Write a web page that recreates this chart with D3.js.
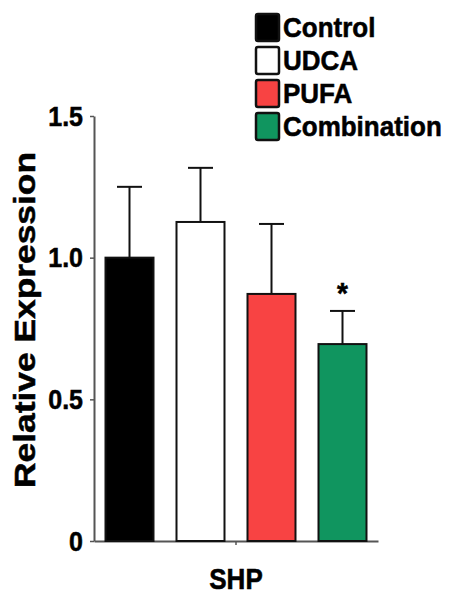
<!DOCTYPE html>
<html>
<head>
<meta charset="utf-8">
<script src="https://cdn.jsdelivr.net/npm/d3@7"></script>
<style>
  html, body { margin: 0; padding: 0; background: #fff; }
  svg { display: block; }
  text { font-family: "Liberation Sans", Arial, Helvetica, sans-serif; font-weight: bold; fill: #000; stroke: #000; stroke-width: 0.5px; }
</style>
</head>
<body>
<svg id="chart" width="450" height="596"></svg>
<script>
// ---- data ----
const categories = ["Control", "UDCA", "PUFA", "Combination"];
const values = [1.0, 1.126, 0.872, 0.695];
const errors = [0.25, 0.191, 0.247, 0.117];
const significant = [false, false, false, true];
const colors = ["#000000", "#ffffff", "#f84343", "#10955f"];
const groupLabel = ["SHP"];
const yTicks = [0, 0.5, 1.0, 1.5];
const yTickLabels = ["0", "0.5", "1.0", "1.5"];
const yLabel = "Relative Expression";

const svg = d3.select("#chart");
const S = 1.13; // vertical stretch of text in reference

const y = d3.scaleLinear().domain([0, 1.5]).range([541, 116]);
const x = d3.scaleBand().domain(categories).range([94, 378]).paddingInner(0.324).paddingOuter(0.162);
const xg = d3.scaleBand().domain(groupLabel).range([94, 378]);

// y axis
const yAxis = d3.axisLeft(y).tickValues(yTicks)
  .tickFormat((d, i) => yTickLabels[i]).tickSize(4).tickSizeOuter(0).tickPadding(0);
const ya = svg.append("g").attr("transform", "translate(94,0)").call(yAxis);
ya.select(".domain").attr("stroke", "#555").attr("stroke-width", 2);
ya.selectAll(".tick line").attr("stroke", "#555").attr("stroke-width", 1.5);
ya.selectAll(".tick text").each(function () {
  const t = d3.select(this);
  t.attr("x", null).attr("dy", null).attr("text-anchor", "end")
    .attr("font-size", 25).attr("fill", "#000")
    .attr("transform", `translate(-11,9) scale(1,${S})`);
});
ya.attr("font-size", null).attr("font-family", null);

// x axis
const xAxis = d3.axisBottom(xg).tickSize(4).tickSizeOuter(0).tickFormat("");
const xa = svg.append("g").attr("transform", "translate(0,541)").call(xAxis);
xa.select(".domain").attr("stroke", "#555").attr("stroke-width", 2);
xa.selectAll(".tick line").attr("stroke", "#555").attr("stroke-width", 1.5);

svg.append("text")
  .attr("text-anchor", "middle")
  .attr("font-size", 26)
  .attr("transform", `translate(${xg(groupLabel[0]) + xg.bandwidth() / 2},589) scale(1,1.15)`)
  .text(groupLabel[0]);

// bars
svg.append("g").selectAll("rect").data(categories).join("rect")
  .attr("x", d => x(d))
  .attr("y", (d, i) => y(values[i]))
  .attr("width", x.bandwidth())
  .attr("height", (d, i) => y(0) - y(values[i]))
  .attr("fill", (d, i) => colors[i])
  .attr("stroke", "#111")
  .attr("stroke-width", 2);

// error bars
const eg = svg.append("g").attr("stroke", "#111").attr("stroke-width", 2);
categories.forEach((c, i) => {
  const cx = x(c) + x.bandwidth() / 2;
  eg.append("line").attr("x1", cx).attr("x2", cx)
    .attr("y1", y(values[i])).attr("y2", y(values[i] + errors[i]));
  eg.append("line").attr("x1", cx - 12.5).attr("x2", cx + 12.5)
    .attr("y1", y(values[i] + errors[i])).attr("y2", y(values[i] + errors[i]));
  if (significant[i]) {
    svg.append("text").attr("text-anchor", "middle").attr("font-size", 28)
      .attr("font-weight", "normal")
      .attr("transform", `translate(${cx},${y(values[i] + errors[i]) - 8}) scale(1,1.05)`)
      .text("*");
  }
});

// y label
svg.append("text")
  .attr("text-anchor", "middle")
  .attr("font-size", 29)
  .attr("transform", "translate(35,320) rotate(-90)")
  .attr("textLength", 336)
  .attr("lengthAdjust", "spacingAndGlyphs")
  .text(yLabel);

// legend
const lg = svg.append("g");
categories.forEach((c, i) => {
  const top = 14 + i * 33;
  lg.append("rect").attr("x", 256).attr("y", top).attr("width", 23).attr("height", 27)
    .attr("rx", 2).attr("fill", colors[i]).attr("stroke", "#111").attr("stroke-width", 2.5);
  lg.append("text").attr("font-size", 26)
    .attr("transform", `translate(283,${top + 23}) scale(1,1.08)`)
    .text(c);
});
</script>
</body>
</html>
